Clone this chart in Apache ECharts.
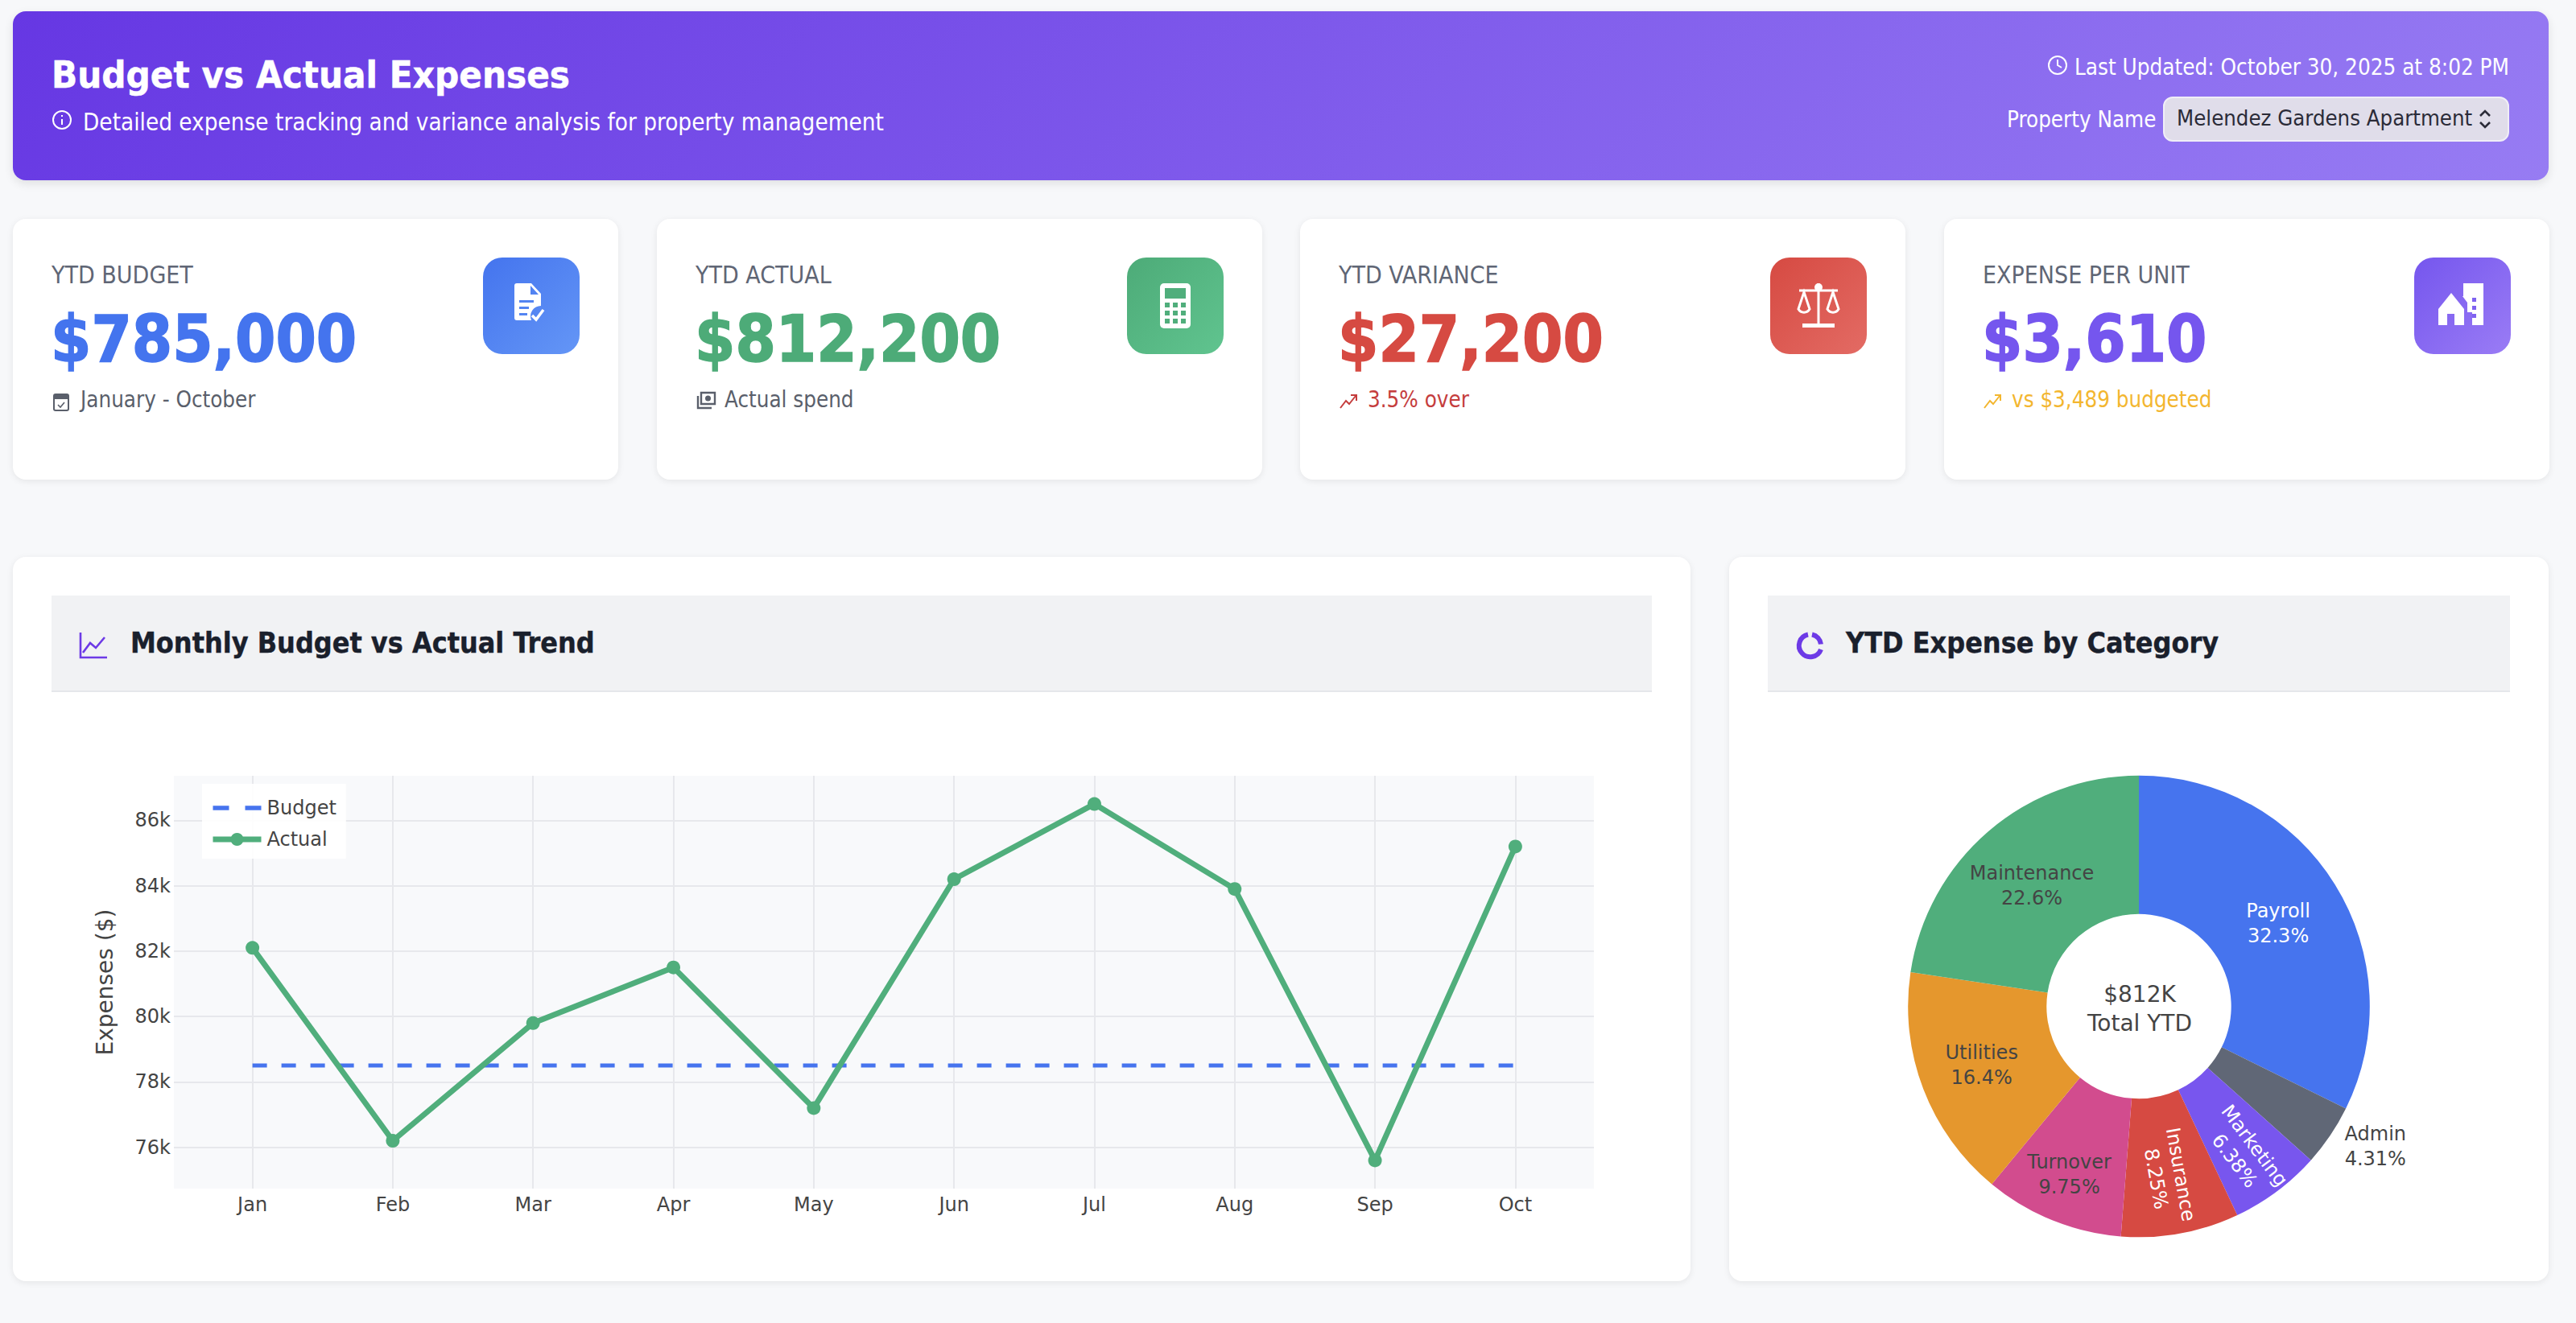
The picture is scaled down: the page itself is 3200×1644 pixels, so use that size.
<!DOCTYPE html>
<html>
<head>
<meta charset="utf-8">
<title>Budget vs Actual Expenses</title>
<script src="https://cdn.jsdelivr.net/npm/echarts@6/dist/echarts.min.js"></script>
<style>
  * { box-sizing: border-box; margin: 0; padding: 0; }
  html, body { width: 3200px; height: 1644px; overflow: hidden; background: #f7f8fa; }
  body { position: relative; font-family: "DejaVu Sans Condensed", "DejaVu Sans", sans-serif; }
  .abs { position: absolute; white-space: nowrap; }
  .header { left: 16px; top: 14px; width: 3150px; height: 210px; border-radius: 16px;
    background: linear-gradient(135deg, #6637e3 0%, #977cf3 100%);
    box-shadow: 0 4px 12px rgba(0, 0, 0, .1); }
  .card { background: #fff; border-radius: 16px; box-shadow: 0 2px 8px rgba(0, 0, 0, .08); }
  .kpi { top: 272px; width: 752px; height: 324px; }
  .kpi-label { left: 48px; top: 50px; line-height: 40px; font-size: 30px; color: #5f6675; }
  .kpi-value { left: 47px; top: 92px; line-height: 114px; font-size: 80.5px; font-weight: 700; -webkit-text-stroke: 1.5px; }
  .kpi-note { left: 84px; top: 204px; line-height: 40px; font-size: 27.5px; }
  .kpi-note-icon { left: 48px; top: 212px; }
  .kpi-box { left: 584px; top: 48px; width: 120px; height: 120px; border-radius: 24px; }
  .kpi-box svg { position: absolute; left: 28px; top: 28px; }
  .band { top: 740px; height: 120px; background: #f1f2f4; border-bottom: 2px solid #e5e7eb; }
  .band-title { top: 772px; line-height: 54px; font-size: 35.6px; font-weight: 700; color: #1a202c; -webkit-text-stroke: .4px; }
  .white { color: #fff; }
  .select { left: 2687px; top: 120px; width: 430px; height: 56px; border-radius: 12px; background: #e0ddea;
    border: 2px solid #f0eef7; line-height: 50px; padding-left: 15px; font-size: 27.3px; color: #2b2b38; }
  #trendChart { position: absolute; left: 16px; top: 692px; width: 2084px; height: 900px; }
  #categoryChart { position: absolute; left: 2148px; top: 692px; width: 1018px; height: 900px; }
</style>
</head>
<body>
<div class="abs header"></div>
<div class="abs white" style="left:64px;top:60px;line-height:66px;font-size:47px;font-weight:700;-webkit-text-stroke:.5px">Budget vs Actual Expenses</div>
<svg class="abs" style="left:64px;top:136px" width="28" height="28" viewBox="0 0 28 28" fill="none" stroke="#fff" stroke-width="2"><circle cx="13" cy="13" r="11"/><path d="M13 12v7M13 7v2"/></svg>
<div class="abs white" style="left:103px;top:130px;line-height:44px;font-size:29.4px">Detailed expense tracking and variance analysis for property management</div>
<svg class="abs" style="left:2543px;top:68px" width="26" height="26" viewBox="0 0 26 26" fill="none" stroke="#fff" stroke-width="2"><circle cx="13" cy="13" r="11"/><path d="M13 6v7l5 3"/></svg>
<div class="abs white" style="right:83px;top:64px;line-height:40px;font-size:27.6px">Last Updated: October 30, 2025 at 8:02 PM</div>
<div class="abs white" style="left:2493px;top:128px;line-height:40px;font-size:27.5px">Property Name</div>
<div class="abs select">Melendez Gardens Apartment
  <svg class="abs" style="left:388px;top:12px" width="20" height="28" viewBox="0 0 20 28" fill="none" stroke="#2b2b38" stroke-width="2.6"><path d="M4 10l6-6 6 6M4 18l6 6 6-6"/></svg>
</div>

<div id="kpiRow"></div>

<div class="abs card" style="left:16px;top:692px;width:2084px;height:900px"></div>
<div class="abs card" style="left:2148px;top:692px;width:1018px;height:900px"></div>
<div id="trendChart"></div>
<div id="categoryChart"></div>

<div class="abs band" style="left:64px;width:1988px"></div>
<svg class="abs" style="left:97px;top:784px" width="38" height="36" viewBox="0 0 38 36" fill="none" stroke="#6d3ae6" stroke-width="2.6"><path d="M3 2v31h33M6 27l9-12 7 6 11-13"/></svg>
<div class="abs band-title" style="left:162px">Monthly Budget vs Actual Trend</div>
<div class="abs band" style="left:2196px;width:922px"></div>
<svg class="abs" style="left:2229px;top:783px" width="38" height="38" viewBox="0 0 38 38" fill="none" stroke="#6d3ae6" stroke-width="6"><path d="M22 5.5a14 14 0 0 1 11 12M33 24a14 14 0 1 1-16-18.500"/></svg>
<div class="abs band-title" style="left:2293px">YTD Expense by Category</div>

<script>
// 指标卡片
const kpiLabels = ["YTD BUDGET", "YTD ACTUAL", "YTD VARIANCE", "EXPENSE PER UNIT"];
const kpiValues = ["$785,000", "$812,200", "$27,200", "$3,610"];
const kpiNotes = ["January - October", "Actual spend", "3.5% over", "vs $3,489 budgeted"];

// 月度趋势
const months = ["Jan", "Feb", "Mar", "Apr", "May", "Jun", "Jul", "Aug", "Sep", "Oct"];
const budget = [78500, 78500, 78500, 78500, 78500, 78500, 78500, 78500, 78500, 78500];
const actual = [82100, 76200, 79800, 81500, 77200, 84200, 86500, 83900, 75600, 85200];
const yTicks = [76000, 78000, 80000, 82000, 84000, 86000];

// 费用构成
const categories = ["Payroll", "Admin", "Marketing", "Insurance", "Turnover", "Utilities", "Maintenance"];
const categoryValues = [262400, 35000, 51800, 67000, 79200, 133000, 183800];
const centerText = ["$812K", "Total YTD"];

const PLOT_FONT = '"DejaVu Sans", sans-serif';
const TEXT_COLOR = "#444";
const GRID_COLOR = "#e7e8ec";
const kpiColors = ["#4474ee", "#4dab78", "#d64a42", "#7556ee"];
const kpiNoteColors = ["#5a5f6b", "#5a5f6b", "#c53d3d", "#f3b62f"];
const kpiBoxes = [
  "linear-gradient(135deg,#4474ee,#6496f6)",
  "linear-gradient(135deg,#4dab78,#60c48f)",
  "linear-gradient(135deg,#d64a42,#e36b64)",
  "linear-gradient(135deg,#7556ee,#9a7cf5)",
];
const kpiLeft = [16, 816, 1615, 2415];
const pieColors = ["#4674ee", "#606776", "#7856ee", "#d64a42", "#d24c8e", "#e5972d", "#50ae7c"];
const pieLabelColors = ["#fff", TEXT_COLOR, "#fff", "#fff", TEXT_COLOR, TEXT_COLOR, TEXT_COLOR];
const pieLabelRotate = [0, 0, -53, -80, 0, 0, 0];
const pieLabelShift = [[0, 5], [125, 60], [21, 4], [11, 2], [-10, 20], [-5, 0], [0, 4]];

const kpiIcons = [
  '<path fill="#fff" d="M14 4h18l12 13v15a13 13 0 0 0-12 18H14a3 3 0 0 1-3-3V7a3 3 0 0 1 3-3zM31 7v11h10zM17 25v3h18v-3zM17 33v3h12v-3zM17 41v3h10v-3z" fill-rule="evenodd"/><path d="M33 44l5 5 9-12" stroke="#fff" stroke-width="3.500" fill="none"/>',
  '<rect x="13" y="4" width="38" height="56" rx="5" fill="#fff"/><rect x="19" y="10" width="26" height="13" fill="#50ae7c"/><g fill="#50ae7c"><rect x="19" y="28" width="6" height="6"/><rect x="29" y="28" width="6" height="6"/><rect x="39" y="28" width="6" height="6"/><rect x="19" y="38" width="6" height="6"/><rect x="29" y="38" width="6" height="6"/><rect x="39" y="38" width="6" height="6"/><rect x="19" y="48" width="6" height="6"/><rect x="29" y="48" width="6" height="6"/><rect x="39" y="48" width="6" height="6"/></g>',
  '<g fill="none" stroke="#fff" stroke-width="3"><path d="M32 4v50M8 13h48"/><path d="M14 15L7 36a8 8 0 0 0 14 0zM50 15l-7 21a8 8 0 0 0 14 0z"/></g><circle cx="32" cy="9" r="5" fill="#fff"/><rect x="12" y="54" width="40" height="5" fill="#fff"/>',
  '<path fill="#fff" d="M33 4h25v52H44V40h-6V28L32 20h1zM2 36l16-20 16 20v20H22V42h-9v14H2z"/><g fill="#7f62f0"><rect x="44" y="22" width="5" height="5"/><rect x="44" y="32" width="5" height="5"/><rect x="44" y="42" width="5" height="5"/></g>',
];
const noteIcons = [
  '<rect x="3" y="6" width="18" height="20" rx="2" fill="none" stroke="#5a5f6b" stroke-width="2"/><rect x="3" y="6" width="18" height="6" fill="#5a5f6b"/><path d="M8 19l3 3 5-6" stroke="#5a5f6b" stroke-width="1.600" fill="none"/>',
  '<path d="M7 4h17v14H7zM3 8v15h17" fill="none" stroke="#5a5f6b" stroke-width="2.400"/><circle cx="15.500" cy="11" r="3.500" fill="#5a5f6b"/>',
  '<path d="M2 23l7-9 4 4 8-10M15 7h7v7" fill="none" stroke="#c53d3d" stroke-width="2"/>',
  '<path d="M2 23l7-9 4 4 8-10M15 7h7v7" fill="none" stroke="#f3b62f" stroke-width="2"/>',
];

// 渲染指标卡片
document.getElementById("kpiRow").innerHTML = kpiLabels.map((label, i) => `
  <div class="abs card kpi" style="left:${kpiLeft[i]}px">
    <div class="abs kpi-label">${label}</div>
    <div class="abs kpi-value" style="color:${kpiColors[i]}">${kpiValues[i]}</div>
    <svg class="abs kpi-note-icon" width="26" height="28" viewBox="0 0 26 28">${noteIcons[i]}</svg>
    <div class="abs kpi-note" style="color:${kpiNoteColors[i]}">${kpiNotes[i]}</div>
    <div class="abs kpi-box" style="background:${kpiBoxes[i]}">
      <svg width="64" height="64" viewBox="0 0 64 64">${kpiIcons[i]}</svg>
    </div>
  </div>`).join("");

// 折线图
const trendChart = echarts.init(document.getElementById("trendChart"), null, { renderer: "svg" });
trendChart.setOption({
  animation: false,
  textStyle: { fontFamily: PLOT_FONT },
  grid: {
    left: 200, top: 272, width: 1764, height: 513,
    show: true, backgroundColor: "#f8f9fb", borderWidth: 0,
  },
  legend: {
    left: 235, top: 282, orient: "vertical",
    backgroundColor: "rgba(255,255,255,0.9)",
    padding: [18, 12, 12, 10],
    itemWidth: 60, itemHeight: 20, itemGap: 15,
    textStyle: { fontSize: 24, color: TEXT_COLOR, fontFamily: PLOT_FONT, padding: [0, 0, 0, 2] },
    data: [
      { name: "Budget", icon: "path://M0,0 H18 V5 H0 Z M36,0 H54 V5 H36 Z" },
      { name: "Actual", lineStyle: { width: 7 } },
    ],
  },
  xAxis: {
    type: "value", min: -0.56, max: 9.56,
    axisLine: { show: false },
    axisTick: { show: false, customValues: months.map((m, i) => i) },
    axisLabel: {
      customValues: months.map((m, i) => i),
      formatter: value => months[value],
      fontSize: 24, color: TEXT_COLOR, margin: 8, fontFamily: PLOT_FONT,
    },
    splitLine: { show: true, lineStyle: { color: GRID_COLOR, width: 2 } },
  },
  yAxis: {
    type: "value", min: 74737, max: 87363,
    name: "Expenses ($)", nameLocation: "middle", nameGap: 72,
    nameTextStyle: { fontSize: 28, color: TEXT_COLOR, fontFamily: PLOT_FONT },
    axisLine: { show: false },
    axisTick: { show: false, customValues: yTicks },
    axisLabel: {
      customValues: yTicks,
      formatter: value => value / 1000 + "k",
      fontSize: 24, color: TEXT_COLOR, margin: 4, fontFamily: PLOT_FONT,
      padding: [6, 0, 0, 0],
    },
    splitLine: { show: true, lineStyle: { color: GRID_COLOR, width: 2 } },
  },
  series: [
    {
      name: "Budget", type: "line", showSymbol: false, symbol: "none",
      data: months.map((m, i) => [i, budget[i]]),
      lineStyle: { color: "#4674ee", width: 5, type: [18, 18] },
      itemStyle: { color: "#4674ee" },
    },
    {
      name: "Actual", type: "line", symbol: "circle", symbolSize: 17,
      data: months.map((m, i) => [i, actual[i]]),
      lineStyle: { color: "#50ae7c", width: 7 },
      itemStyle: { color: "#50ae7c" },
    },
  ],
});

// 环形图
const categoryChart = echarts.init(document.getElementById("categoryChart"), null, { renderer: "svg" });
categoryChart.setOption({
  animation: false,
  title: {
    text: centerText.join("\n"),
    left: 505, top: 520, textAlign: "center",
    textStyle: { fontSize: 28, fontWeight: "normal", color: TEXT_COLOR, fontFamily: PLOT_FONT, lineHeight: 36 },
  },
  series: [{
    type: "pie", silent: true, clockwise: true, startAngle: 90,
    center: [509, 558.500], radius: [114.7, 286.8],
    avoidLabelOverlap: false,
    label: {
      position: "inside", fontSize: 24, lineHeight: 31, fontFamily: PLOT_FONT,
      formatter: p => p.name + "\n" + p.percent.toPrecision(3) + "%",
    },
    labelLine: { show: false },
    labelLayout: p => ({ dx: pieLabelShift[p.dataIndex][0], dy: pieLabelShift[p.dataIndex][1] }),
    data: categories.map((name, i) => ({
      name,
      value: categoryValues[i],
      itemStyle: { color: pieColors[i] },
      label: { color: pieLabelColors[i], rotate: pieLabelRotate[i] },
    })),
  }],
});
</script>
</body>
</html>
